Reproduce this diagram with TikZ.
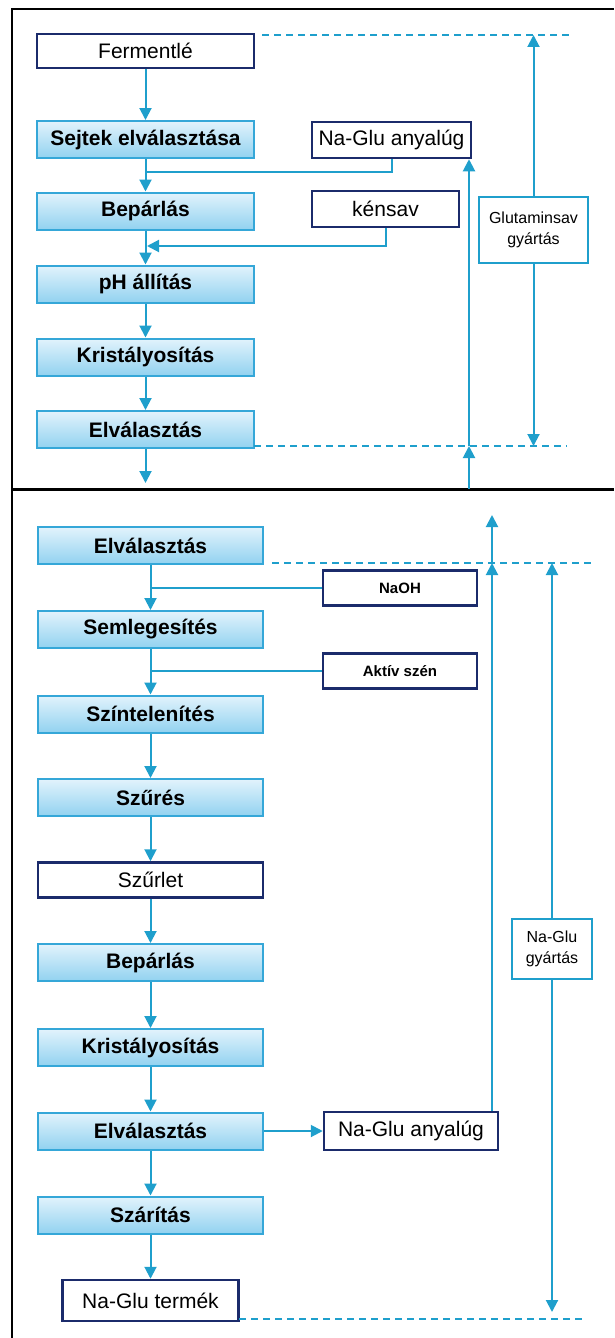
\documentclass[tikz,border=0pt]{standalone}
\usepackage{fontspec}
\setmainfont{Liberation Sans}
\usetikzlibrary{arrows.meta}
\definecolor{lineblue}{HTML}{1F9FCC}
\definecolor{boxblue}{HTML}{35A7D8}
\definecolor{lighttop}{HTML}{E2F3FC}
\definecolor{midbot}{HTML}{92D2F0}
\definecolor{navy}{HTML}{1B2B6B}
\tikzset{
  proc/.style={draw=boxblue, line width=2pt, top color=lighttop, bottom color=midbot,
    minimum height=37pt, inner sep=0pt, font=\fontsize{21}{24}\selectfont\bfseries},
  wbox/.style={draw=navy, line width=2.5pt, fill=white, inner sep=0pt,
    font=\fontsize{21}{24}\selectfont},
  sbox/.style={draw=navy, line width=2.5pt, fill=white, inner sep=0pt,
    minimum width=154pt, minimum height=35pt, font=\fontsize{15}{18}\selectfont\bfseries},
  gbox/.style={draw=lineblue, line width=2pt, fill=white, inner sep=0pt, align=center,
    font=\fontsize{16}{21}\selectfont},
  conn/.style={draw=lineblue, line width=2pt},
  flow/.style={conn, -{Triangle[width=12pt,length=12pt]}},
  dashln/.style={draw=lineblue, line width=2pt, dash pattern=on 7pt off 5pt},
}
\begin{document}
\begin{tikzpicture}[x=1pt,y=-1pt]
\useasboundingbox (0,0) rectangle (614,1338);
% frame
\draw[line width=2pt] (12,1338) -- (12,9) -- (614,9);
\draw[line width=3pt] (12,489) -- (614,489);

% ---------- top panel ----------
\node[wbox, minimum width=217pt, minimum height=34pt] (ferm) at (145.5,51) {Fermentlé};
\node[proc, minimum width=217pt] (sejt) at (145.5,139.5) {Sejtek elválasztása};
\node[proc, minimum width=217pt] (bep1) at (145.5,211) {Bepárlás};
\node[proc, minimum width=217pt] (ph) at (145.5,284) {pH állítás};
\node[proc, minimum width=217pt] (kr1) at (145.5,357) {Kristályosítás};
\node[proc, minimum width=217pt] (elv1) at (145.5,429.5) {Elválasztás};
\node[wbox, minimum width=159pt, minimum height=36pt] (ngl1) at (391.5,140) {Na-Glu anyalúg};
\node[wbox, minimum width=147pt, minimum height=36pt] (ken) at (385.5,209) {kénsav};
\node[gbox, minimum width=109pt, minimum height=66pt] (glu) at (533.5,230) {Glutaminsav\\gyártás};

\coordinate (j1) at (145.5,172);
\coordinate (j2) at (147,246);
\coordinate (e1) at (145.5,483);
\coordinate (b1) at (469,489);
\coordinate (d1) at (469,446);
\coordinate (g1) at (533.5,35);
\coordinate (g2) at (533.5,446);

\draw[flow] (ferm) -- (sejt);
\draw[flow] (sejt) -- (bep1);
\draw[flow] (bep1) -- (ph);
\draw[flow] (ph) -- (kr1);
\draw[flow] (kr1) -- (elv1);
\draw[flow] (elv1) -- (e1);
\draw[conn] (ngl1.south) |- (j1);
\draw[flow] (ken.south) |- (j2);
\draw[flow] (b1) -- (d1);
\draw[flow] (d1) -- (b1 |- ngl1.south);
\draw[flow] (glu.north) -- (g1);
\draw[flow] (glu.south) -- (g2);
\draw[dashln] (262,35) -- (571,35);
\draw[dashln] (254,446) -- (567,446);

% ---------- bottom panel ----------
\node[proc, minimum width=225pt] (elv2) at (150.5,545.5) {Elválasztás};
\node[sbox] (naoh) at (400,588) {NaOH};
\node[proc, minimum width=225pt] (seml) at (150.5,629.5) {Semlegesítés};
\node[sbox] (akt) at (400,671) {Aktív szén};
\node[proc, minimum width=225pt] (szint) at (150.5,714) {Színtelenítés};
\node[proc, minimum width=225pt] (szur) at (150.5,797.5) {Szűrés};
\node[wbox, minimum width=225pt, minimum height=35pt] (szurlet) at (150.5,880) {Szűrlet};
\node[proc, minimum width=225pt] (bep2) at (150.5,962.5) {Bepárlás};
\node[proc, minimum width=225pt] (kr2) at (150.5,1047.5) {Kristályosítás};
\node[proc, minimum width=225pt] (elv3) at (150.5,1131) {Elválasztás};
\node[wbox, minimum width=174pt, minimum height=38pt] (ngl2) at (411,1131) {Na-Glu anyalúg};
\node[proc, minimum width=225pt] (szar) at (150.5,1215) {Szárítás};
\node[wbox, minimum width=176pt, minimum height=41pt] (term) at (150.5,1300.5) {Na-Glu termék};
\node[gbox, minimum width=80pt, minimum height=60pt] (ngly) at (552,949) {Na-Glu\\gyártás};

\coordinate (d2) at (492,563);
\coordinate (t2) at (492,515);
\coordinate (h1) at (552,563);
\coordinate (h2) at (552,1312);

\draw[flow] (elv2) -- (seml);
\draw[conn] (naoh.west) -- (naoh.west -| elv2);
\draw[flow] (seml) -- (szint);
\draw[conn] (akt.west) -- (akt.west -| seml);
\draw[flow] (szint) -- (szur);
\draw[flow] (szur) -- (szurlet);
\draw[flow] (szurlet) -- (bep2);
\draw[flow] (bep2) -- (kr2);
\draw[flow] (kr2) -- (elv3);
\draw[flow] (elv3) -- (ngl2);
\draw[flow] (elv3) -- (szar);
\draw[flow] (szar) -- (term);
\draw[flow] (ngl2.north -| d2) -- (d2);
\draw[flow] (d2) -- (t2);
\draw[flow] (ngly.north) -- (h1);
\draw[flow] (ngly.south) -- (h2);
\draw[dashln] (272,563) -- (593,563);
\draw[dashln] (239,1319) -- (586,1319);
\end{tikzpicture}
\end{document}
